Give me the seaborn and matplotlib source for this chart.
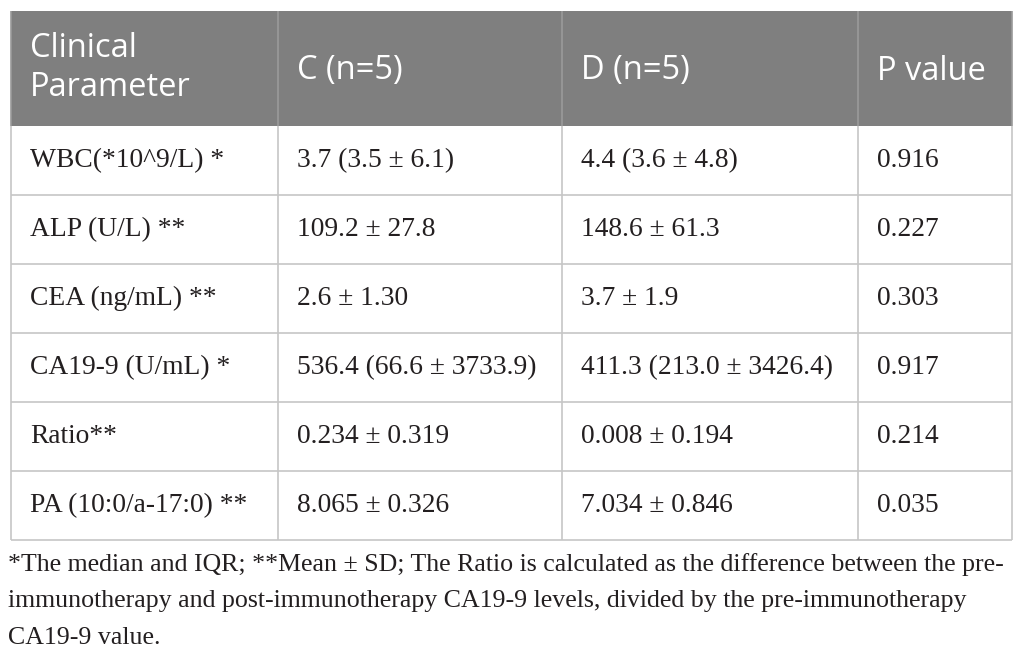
import matplotlib
matplotlib.use("Agg")
import matplotlib.pyplot as plt
import seaborn as sns
from matplotlib.patches import Rectangle

header = ["Clinical\nParameter", "C (n=5)", "D (n=5)", "P value"]
parameters = [
    "WBC(*10^9/L) *",
    "ALP (U/L) **",
    "CEA (ng/mL) **",
    "CA19-9 (U/mL) *",
    "Ratio**",
    "PA (10:0/a-17:0) **",
]
c_values = [
    "3.7 (3.5 ± 6.1)",
    "109.2 ± 27.8",
    "2.6 ± 1.30",
    "536.4 (66.6 ± 3733.9)",
    "0.234 ± 0.319",
    "8.065 ± 0.326",
]
d_values = [
    "4.4 (3.6 ± 4.8)",
    "148.6 ± 61.3",
    "3.7 ± 1.9",
    "411.3 (213.0 ± 3426.4)",
    "0.008 ± 0.194",
    "7.034 ± 0.846",
]
p_values = ["0.916", "0.227", "0.303", "0.917", "0.214", "0.035"]
footnote = [
    "*The median and IQR; **Mean ± SD; The Ratio is calculated as the difference between the pre-",
    "immunotherapy and post-immunotherapy CA19-9 levels, divided by the pre-immunotherapy",
    "CA19-9 value.",
]

# layout in pixels
col_edges = [11, 278, 562, 858, 1012]
head_top, head_bot = 10.5, 126
row_h = 69
grid_col = "#c6c6c6"
head_col = "#7f7f7f"
text_col = "#231f20"

sns.set_style("white")
fig = plt.figure(figsize=(10.26, 6.59), dpi=100)
ax = fig.add_axes([0, 0, 1, 1])
ax.set_xlim(0, 1026)
ax.set_ylim(659, 0)
ax.axis("off")

# header band
ax.add_patch(Rectangle((col_edges[0], head_top), col_edges[-1] - col_edges[0],
                       head_bot - head_top, facecolor=head_col, edgecolor="none"))
for x in col_edges:
    ax.vlines(x, head_top, head_bot, color="#9a9a9a", lw=1.2)
for i, h in enumerate(header):
    y = 68 if "\n" in h else 71
    ax.text(col_edges[i] + 19, y, h, color="white",
            family="Open Sans", fontsize=23.5, va="center", ha="left",
            linespacing=1.25)

rows = list(zip(parameters, c_values, d_values, p_values))
body_bot = head_bot + row_h * len(rows)
for r, cells in enumerate(rows):
    y0 = head_bot + r * row_h
    for c, txt in enumerate(cells):
        ax.text(col_edges[c] + 19, y0 + row_h / 2, txt, color=text_col,
                family="Liberation Serif", fontsize=19.8, va="center", ha="left")
    ax.hlines(y0 + row_h, col_edges[0], col_edges[-1], color=grid_col, lw=1.2)
for x in col_edges:
    ax.vlines(x, head_bot, body_bot, color=grid_col, lw=1.2)

for i, line in enumerate(footnote):
    ax.text(8, 565 + i * 36.5, line, color=text_col, family="Liberation Serif",
            fontsize=18.6, va="center", ha="left")

fig.savefig("out.png", dpi=100)
plt.close(fig)
